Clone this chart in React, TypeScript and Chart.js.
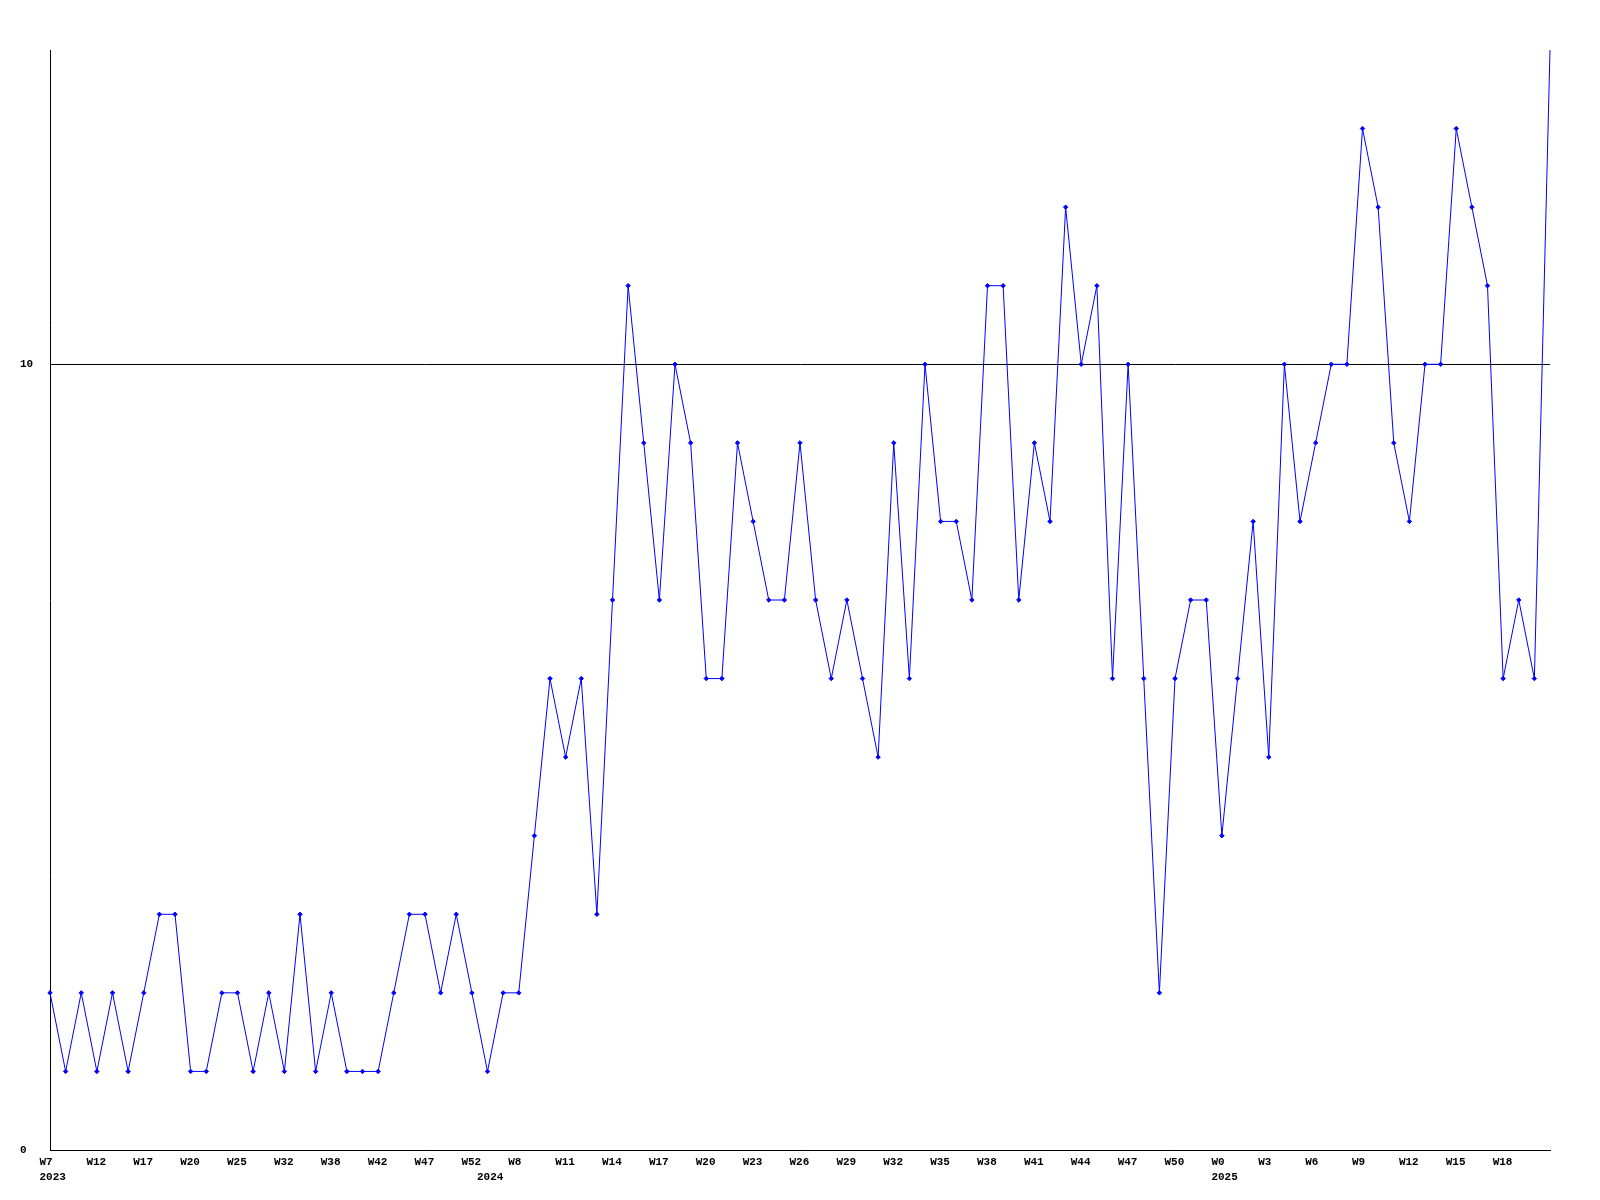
import React, { useEffect, useRef } from "react";
import { Chart, registerables } from "chart.js";

Chart.register(...registerables);

// one value per week (97 points)
const values: number[] = [
  2, 1, 2, 1, 2, 1, 2, 3, 3, 1,
  1, 2, 2, 1, 2, 1, 3, 1, 2, 1,
  1, 1, 2, 3, 3, 2, 3, 2, 1, 2,
  2, 4, 6, 5, 6, 3, 7, 11, 9, 7,
  10, 9, 6, 6, 9, 8, 7, 7, 9, 7,
  6, 7, 6, 5, 9, 6, 10, 8, 8, 7,
  11, 11, 7, 9, 8, 12, 10, 11, 6, 10,
  6, 2, 6, 7, 7, 4, 6, 8, 5, 10,
  8, 9, 10, 10, 13, 12, 9, 8, 10, 10,
  13, 12, 11, 6, 7, 6, 14,
];

// week tick labels, shown on every third point starting at the first
const weekTicks: string[] = [
  "W7", "W12", "W17", "W20", "W25", "W32", "W38", "W42", "W47", "W52", "W8",
  "W11", "W14", "W17", "W20", "W23", "W26", "W29", "W32", "W35", "W38", "W41",
  "W44", "W47", "W50", "W0", "W3", "W6", "W9", "W12", "W15", "W18",
];
const weekTickStep = 3;

// year labels and the point index they sit under
const yearLabels: string[] = ["2023", "2024", "2025"];
const yearAt: number[] = [0, 28, 75];

const yTicks: number[] = [0, 10];
const yMax = 14;

const FONT = { family: "'Liberation Mono', 'DejaVu Sans Mono', monospace", size: 11, weight: "bold" as const, lineHeight: "15px" };

function buildLabels(): (string | string[])[] {
  const labels: (string | string[])[] = [];
  for (let i = 0; i < values.length; i++) {
    let wk = "";
    if (i % weekTickStep === 0 && i / weekTickStep < weekTicks.length) wk = weekTicks[i / weekTickStep];
    const yi = yearAt.indexOf(i);
    if (yi >= 0) labels.push([wk, yearLabels[yi]]);
    else labels.push(wk);
  }
  return labels;
}

export default function App() {
  const ref = useRef<HTMLCanvasElement | null>(null);

  useEffect(() => {
    if (!ref.current) return;
    const whiteBg = {
      id: "whiteBg",
      beforeDraw(chart: any) {
        const c = chart.ctx;
        c.save();
        c.fillStyle = "#ffffff";
        c.fillRect(0, 0, chart.width, chart.height);
        c.restore();
      },
    };
    const chart = new Chart(ref.current, {
      type: "line",
      data: {
        labels: buildLabels(),
        datasets: [
          {
            data: values,
            borderColor: "#0000ff",
            backgroundColor: "#0000ff",
            borderWidth: 1,
            pointStyle: "rectRot",
            pointRadius: (ctx: any) => (ctx.dataIndex === values.length - 1 ? 0 : 2.2),
            pointBorderWidth: 1,
            pointBorderColor: "#0000ff",
            pointBackgroundColor: "#0000ff",
            tension: 0,
            clip: false as any,
          },
        ],
      },
      options: {
        animation: false,
        responsive: false,
        maintainAspectRatio: false,
        layout: { padding: { left: 20, top: 50, right: 50, bottom: 0 } },
        plugins: { legend: { display: false }, tooltip: { enabled: false }, title: { display: false } },
        scales: {
          x: {
            type: "category",
            offset: false,
            grid: { display: false, drawTicks: false },
            border: { display: true, color: "#000000", width: 1 },
            ticks: {
              autoSkip: false,
              maxRotation: 0,
              minRotation: 0,
              align: "start",
              labelOffset: -10.5,
              padding: 5,
              color: "#000000",
              font: FONT,
            },
            afterFit(scale: any) {
              scale.height = 50;
            },
          },
          y: {
            min: 0,
            max: yMax,
            grid: { display: true, color: "#000000", lineWidth: 1, drawTicks: false },
            border: { display: true, color: "#000000", width: 1 },
            afterBuildTicks(scale: any) {
              scale.ticks = yTicks.map((v) => ({ value: v }));
            },
            ticks: {
              crossAlign: "far",
              padding: 0,
              color: "#000000",
              font: FONT,
            },
            afterFit(scale: any) {
              scale.width = 30;
            },
          },
        },
      },
      plugins: [whiteBg],
    });
    return () => chart.destroy();
  }, []);

  return (
    <div style={{ position: "absolute", left: 0, top: 0, width: 1600, height: 1200, background: "#fff" }}>
      <canvas ref={ref} width={1600} height={1200} style={{ width: 1600, height: 1200, display: "block" }} />
    </div>
  );
}
